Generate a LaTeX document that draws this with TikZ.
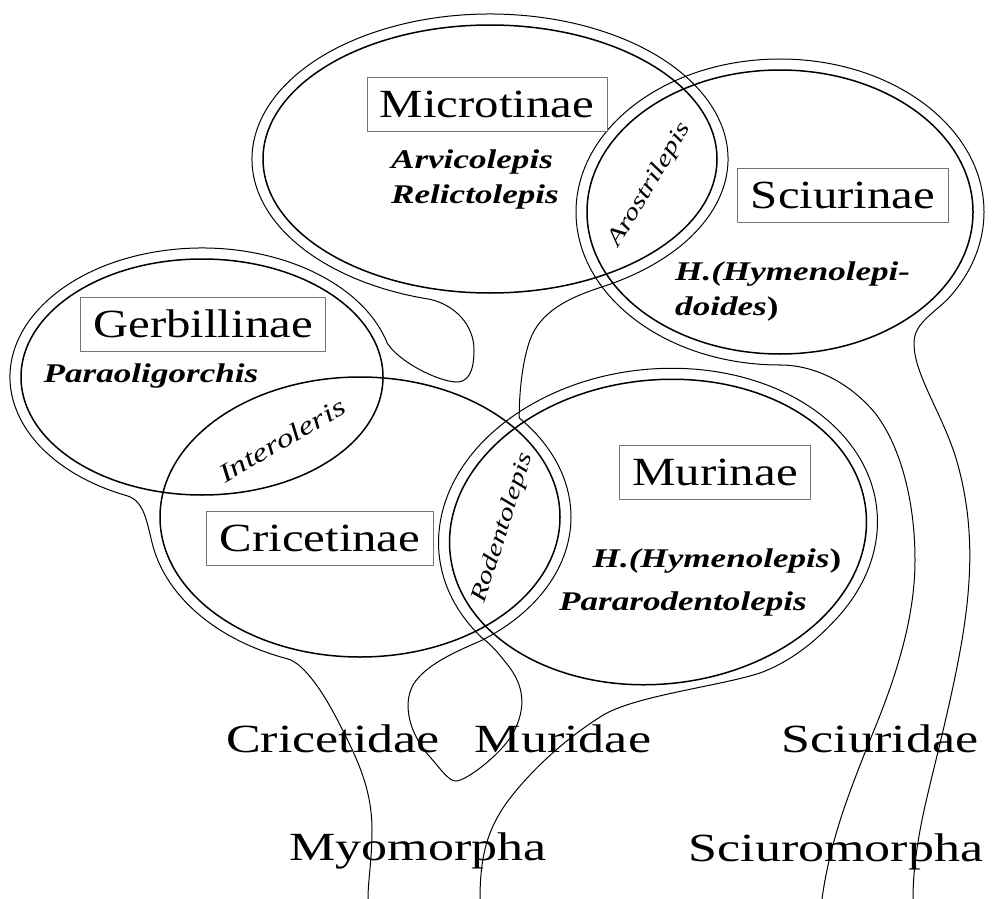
\documentclass[tikz,border=0pt]{standalone}
\usepackage{fontspec}
\setmainfont{Liberation Serif}
\newfontfamily\boxfont{Liberation Serif}[FakeStretch=1.22]
\newfontfamily\wfont{Liberation Serif}[FakeStretch=1.3]
\usetikzlibrary{calc}
\begin{document}
\begin{tikzpicture}[x=1pt,y=-1pt,line join=round,line cap=round,
  inl/.style={line width=1.5pt},
  outl/.style={line width=1pt},
  tbox/.style={draw=black!55,line width=0.9pt,fill=white,minimum height=54pt,inner xsep=13pt,inner ysep=0pt,font={\boxfont\fontsize{40}{44}\selectfont}},
  fam/.style={inner sep=0pt,anchor=base,font={\wfont\fontsize{40}{44}\selectfont}},
  gen/.style={inner sep=0pt,anchor=base,font={\wfont\bfseries\itshape\fontsize{27}{30}\selectfont}},
  lensl/.style={inner sep=0pt,font={\wfont\itshape\fontsize{23}{26}\selectfont}}]
\fill[white] (0,0) rectangle (998,899);
\useasboundingbox (0,0) rectangle (998,899);

% ---------- inner ellipses ----------
\draw[inl] (490,159) ellipse [x radius=227, y radius=134]; % Microtinae
\draw[inl] (780,212) ellipse [x radius=193, y radius=142]; % Sciurinae
\draw[inl] (202,377) ellipse [x radius=181, y radius=118]; % Gerbillinae
\draw[inl] (360,517) ellipse [x radius=200, y radius=140]; % Cricetinae
\draw[inl, rotate around={6:(658,532)}] (658,532) ellipse [x radius=209, y radius=152]; % Murinae

% ---------- Microtinae outer -> lobe -> Gerbillinae outer -> Cricetinae outer -> Cricetidae ----------
\draw[outl] ($(490,159)+(62.5:238 and 145)$)
   arc[start angle=62.5, end angle=-255.4, x radius=238, y radius=145]
   .. controls (455,305) and (474,325) .. (474,350)
   .. controls (474,372) and (468,383) .. (455,382)
   .. controls (435,380) and (400,362) .. ($(202,377)+(-15:192 and 129)$)
   arc[start angle=-15, end angle=-247, x radius=192, y radius=129]
   .. controls (145,501) and (147,524) .. ($(360,517)+(169:211 and 151)$)
   arc[start angle=169, end angle=110, x radius=211, y radius=151]
   .. controls (305,664) and (325,695) .. (340,725)
   .. controls (358,760) and (372,790) .. (372,830)
   .. controls (372,860) and (368,880) .. (368,899);

% ---------- stem -> Cricetinae right outer -> loop ----------
\draw[outl] ($(490,159)+(62.5:238 and 145)$)
   .. controls (568,298) and (540,312) .. (530,340)
   .. controls (522,362) and (519,395) .. ($(360,517)+(-41:211 and 151)$)
   arc[start angle=-41, end angle=55, x radius=211, y radius=151]
   .. controls (455,652) and (425,665) .. (413,685)
   .. controls (402,705) and (410,735) .. (430,757)
   .. controls (440,768) and (448,781) .. (456,781)
   .. controls (466,781) and (500,755) .. (512,735)
   .. controls (525,712) and (526,690) .. (510,668)
   .. controls (500,655) and (492,645) .. (481.4,637.4);

% ---------- Murinae outer -> Muridae ----------
\begin{scope}[rotate around={6:(658,532)}]
\draw[outl] ($(658,532)+(148:220 and 163)$)
   arc[start angle=148, end angle=400, x radius=220, y radius=163];
\end{scope}
\draw[outl] (836.5,618.6)
   .. controls (815,642) and (790,662) .. (760,673)
   .. controls (720,686) and (640,695) .. (605,714)
   .. controls (570,735) and (530,770) .. (505,805)
   .. controls (488,830) and (480,855) .. (480,899);

% ---------- Sciurinae outer -> Sciuridae ----------
\draw[outl] (780,365)
   arc[start angle=90, end angle=395, x radius=204, y radius=153]
   .. controls (930,316) and (913,325) .. (914,345)
   .. controls (915,375) and (940,410) .. (955,455)
   .. controls (975,520) and (972,580) .. (962,640)
   .. controls (950,710) and (930,780) .. (922,820)
   .. controls (916,850) and (913,875) .. (913,899);
\draw[outl] (780,365)
   .. controls (815,365) and (850,383) .. (875,413)
   .. controls (900,445) and (915,500) .. (915,560)
   .. controls (915,620) and (895,680) .. (870,740)
   .. controls (850,790) and (830,840) .. (822,899);

% ---------- boxed subfamily names ----------
\node[tbox] (micro) at (487,104) {Microtinae};
\node[tbox] (sciur) at (843,195) {Sciurinae};
\node[tbox] (gerb) at (203,324) {Gerbillinae};
\node[tbox] (cric) at (320,538) {Cricetinae};
\node[tbox] (muri) at (715,472) {Murinae};

% ---------- genera ----------
\node[gen] (arvi) at (472,168) {Arvicolepis};
\node[gen] (reli) at (475,203) {Relictolepis};
\node[gen] (para) at (151,382) {Paraoligorchis};
\node[gen,anchor=base west] (hym1) at (675,280) {H.(Hymenolepi-};
\node[gen,anchor=base west] (hym2) at (675,315) {doides{\upshape)}};
\node[gen] (hym3) at (717,567) {H.(Hymenolepis{\upshape)}};
\node[gen] (prod) at (683,610) {Pararodentolepis};

\node[lensl,rotate=59] (aro) at (650,185) {Arostrilepis};
\node[lensl,rotate=30,font={\wfont\itshape\fontsize{26}{28}\selectfont}] (inter) at (282,440) {Interoleris};
\node[lensl,rotate=72] (rod) at (503,528) {Rodentolepis};

% ---------- families and suborders ----------
\node[fam] (cricd) at (333,752) {Cricetidae};
\node[fam] (murid) at (563,752) {Muridae};
\node[fam] (sciud) at (880,752) {Sciuridae};
\node[fam] (myo) at (418,860) {Myomorpha};
\node[fam] (sciuro) at (836,861) {Sciuromorpha};
\end{tikzpicture}
\end{document}
